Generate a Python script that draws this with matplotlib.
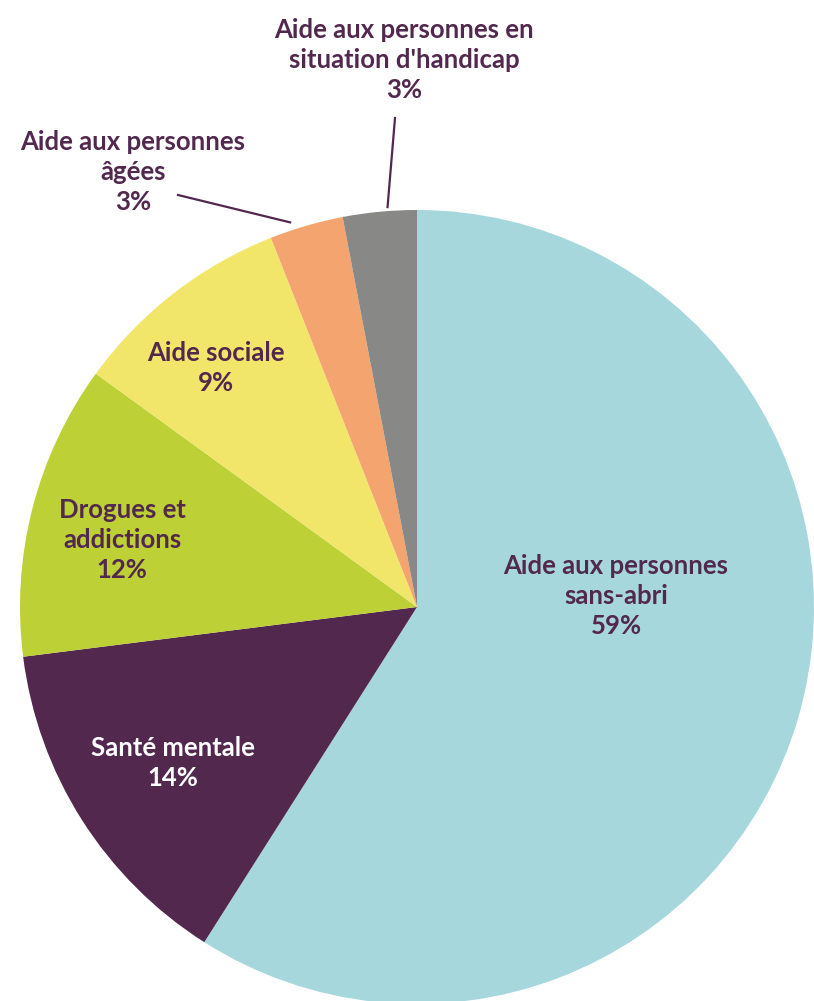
import numpy as np
import matplotlib.pyplot as plt

# --- DATA ---
categories = [
    "Aide aux personnes\nsans-abri",
    "Santé mentale",
    "Drogues et\naddictions",
    "Aide sociale",
    "Aide aux personnes\nâgées",
    "Aide aux personnes en\nsituation d'handicap",
]
shares = [59, 14, 12, 9, 3, 3]
colors = ["#A6D7DD", "#52284F", "#BDD035", "#F1E66A", "#F4A56F", "#888886"]

TEXT = "#52284F"
W, H = 814, 1001
CX, CY, R = 417, H - 607, 397

fig = plt.figure(figsize=(W / 100, H / 100), dpi=100)
ax = fig.add_axes([0, 0, 1, 1])

wedges, _ = ax.pie(shares, colors=colors, startangle=90, counterclock=False,
                   center=(CX, CY), radius=R, frame=True,
                   wedgeprops=dict(linewidth=0))
ax.set_xlim(0, W)
ax.set_ylim(0, H)
ax.set_aspect("equal")
ax.axis("off")

font = dict(family=["Lato", "DejaVu Sans"], fontsize=18.5, fontweight="bold",
            ha="center", va="center", linespacing=1.32)

# label positions (pixel coords, top-left origin)
label_pos = [(616, 596), (173, 763), (122, 540), (216, 368), (133, 172), (404, 60)]
label_col = [TEXT, "white", TEXT, TEXT, TEXT, TEXT]

for name, val, (x, y), c in zip(categories, shares, label_pos, label_col):
    ax.text(x, H - y, f"{name}\n{val}%", color=c, **font)

# leader lines for the two small slices: (text-side start, position along wedge, radius offset)
leaders = [(wedges[4], (178, 195), 0.69, 8), (wedges[5], (395, 118), 0.39, 4)]
for w, start, frac, off in leaders:
    lo, hi = sorted([w.theta1, w.theta2])
    ang = np.deg2rad(lo + frac * (hi - lo))
    end = (CX + (R + off) * np.cos(ang), CY + (R + off) * np.sin(ang))
    ax.plot([start[0], end[0]], [H - start[1], end[1]], color=TEXT, lw=1.6)

fig.savefig("out.png", dpi=100)
